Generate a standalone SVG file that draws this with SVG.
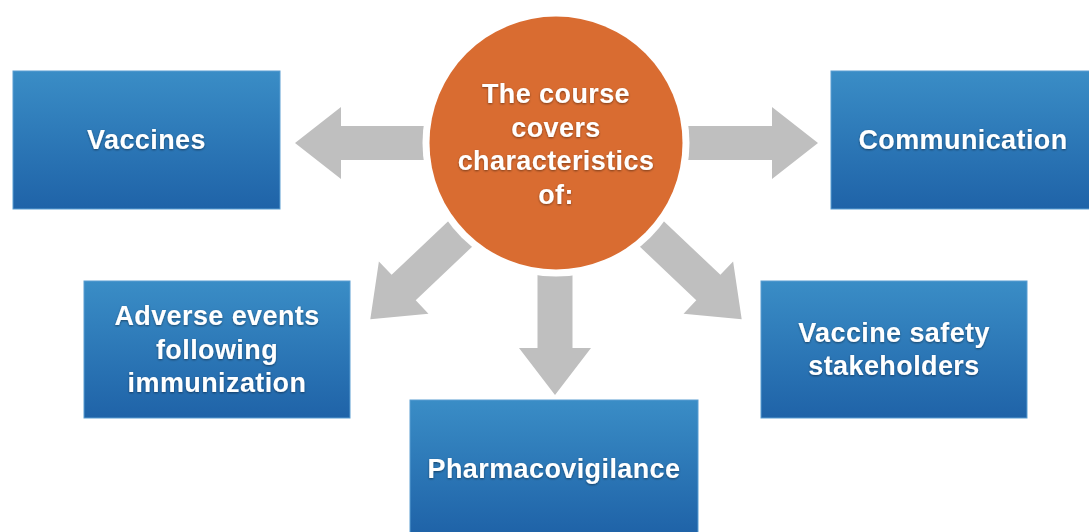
<svg xmlns="http://www.w3.org/2000/svg" width="1089" height="532" viewBox="0 0 1089 532">
  <defs>
    <linearGradient id="boxGrad" x1="0" y1="0" x2="0" y2="1">
      <stop offset="0" stop-color="#3A8DC6"/>
      <stop offset="1" stop-color="#1F63A8"/>
    </linearGradient>
    <filter id="txtShadow" x="-10%" y="-30%" width="120%" height="160%">
      <feDropShadow dx="0" dy="1" stdDeviation="1.2" flood-color="#000000" flood-opacity="0.45"/>
    </filter>
  </defs>
  <style>
    .box { fill: url(#boxGrad); stroke: #5A9ED2; stroke-width: 1; }
    .lbl { font-family: "Liberation Sans", Arial, Helvetica, sans-serif; font-weight: bold; font-size: 27px; letter-spacing: 0.4px; fill: #FFFFFF; text-anchor: middle; filter: url(#txtShadow); }
    .arrow { fill: #BFBFBF; }
  </style>
  <rect width="1089" height="532" fill="#FFFFFF"/>

  <g id="connectors">
    <!-- left -->
    <polygon class="arrow" transform="translate(556,143) rotate(180)" points="100,-17 215,-17 215,-36 261,0 215,36 215,17 100,17"/>
    <!-- right -->
    <polygon class="arrow" transform="translate(556,143)" points="100,-17 216,-17 216,-36 262,0 216,36 216,17 100,17"/>
    <!-- down -->
    <polygon class="arrow" transform="translate(555,143) rotate(90)" points="100,-17.5 205,-17.5 205,-36 252,0 205,36 205,17.5 100,17.5"/>
    <!-- down-left -->
    <polygon class="arrow" transform="translate(556,143) rotate(136.5)" points="100,-17.5 210,-17.5 210,-36 256,0 210,36 210,17.5 100,17.5"/>
    <!-- down-right -->
    <polygon class="arrow" transform="translate(556,143) rotate(43.5)" points="100,-17.5 210,-17.5 210,-36 256,0 210,36 210,17.5 100,17.5"/>
  </g>

  <g id="center">
    <circle cx="556" cy="143" r="133.5" fill="#FFFFFF"/>
    <circle cx="556" cy="143" r="126.5" fill="#D96C31"/>
    <text class="lbl" x="556" y="103">The course</text>
    <text class="lbl" x="556" y="136.5">covers</text>
    <text class="lbl" x="556" y="170">characteristics</text>
    <text class="lbl" x="556" y="204">of:</text>
  </g>

  <g id="vaccines">
    <rect class="box" x="13" y="71" width="267" height="138"/>
    <text class="lbl" x="146.5" y="148.5">Vaccines</text>
  </g>

  <g id="communication">
    <rect class="box" x="831" y="71" width="259" height="138"/>
    <text class="lbl" x="963" y="148.5">Communication</text>
  </g>

  <g id="adverse-events">
    <rect class="box" x="84" y="281" width="266" height="137"/>
    <text class="lbl" x="217" y="325">Adverse events</text>
    <text class="lbl" x="217" y="358.5">following</text>
    <text class="lbl" x="217" y="392">immunization</text>
  </g>

  <g id="stakeholders">
    <rect class="box" x="761" y="281" width="266" height="137"/>
    <text class="lbl" x="894" y="342">Vaccine safety</text>
    <text class="lbl" x="894" y="375">stakeholders</text>
  </g>

  <g id="pharmacovigilance">
    <rect class="box" x="410" y="400" width="288" height="133"/>
    <text class="lbl" x="554" y="478">Pharmacovigilance</text>
  </g>
</svg>
